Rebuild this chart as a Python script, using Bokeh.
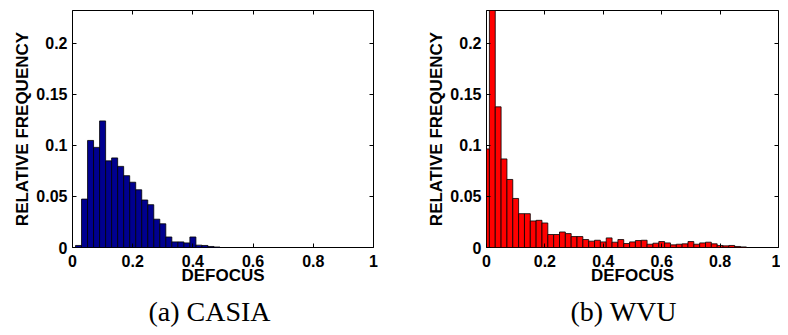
from bokeh.plotting import figure
from bokeh.layouts import row
from bokeh.models import FixedTicker, LinearAxis, Range1d, Title, ColumnDataSource
from bokeh.embed import file_html
from bokeh.resources import INLINE

# ---------------- data ----------------
casia_centers = [0.00, 0.02, 0.04, 0.06, 0.08, 0.10, 0.12, 0.14, 0.16, 0.18,
                 0.20, 0.22, 0.24, 0.26, 0.28, 0.30, 0.32, 0.34, 0.36, 0.38,
                 0.40, 0.42, 0.44, 0.46, 0.48]
casia_freq = [0.0, 0.002, 0.0474, 0.1048, 0.098, 0.1239, 0.0848, 0.0877, 0.0794, 0.0703,
              0.0639, 0.0565, 0.0465, 0.0419, 0.0277, 0.0232, 0.0103, 0.0055, 0.0055, 0.0045,
              0.0103, 0.0023, 0.002, 0.001, 0.0005]

wvu_centers = [0.00, 0.02, 0.04, 0.06, 0.08, 0.10, 0.12, 0.14, 0.16, 0.18,
               0.20, 0.22, 0.24, 0.26, 0.28, 0.30, 0.32, 0.34, 0.36, 0.38,
               0.40, 0.42, 0.44, 0.46, 0.48, 0.50, 0.52, 0.54, 0.56, 0.58,
               0.60, 0.62, 0.64, 0.66, 0.68, 0.70, 0.72, 0.74, 0.76, 0.78,
               0.80, 0.82, 0.84, 0.86, 0.88]
wvu_freq = [0.0965, 0.31, 0.1377, 0.0867, 0.0666, 0.048, 0.0331, 0.0331, 0.026, 0.0266,
            0.024, 0.0127, 0.0127, 0.0152, 0.0136, 0.0107, 0.0107, 0.0078, 0.0062, 0.0071,
            0.0055, 0.0094, 0.0052, 0.0078, 0.0039, 0.0055, 0.0068, 0.0071, 0.0032, 0.0042,
            0.0058, 0.0045, 0.0026, 0.0032, 0.0036, 0.0058, 0.0032, 0.0045, 0.0052, 0.0036,
            0.002, 0.0016, 0.002, 0.001, 0.0006]

bin_width = 0.02

x_ticks = [0, 0.2, 0.4, 0.6, 0.8, 1]
x_tick_labels = ["0", "0.2", "0.4", "0.6", "0.8", "1"]
y_ticks = [0, 0.05, 0.1, 0.15, 0.2]
y_tick_labels = ["0", "0.05", "0.1", "0.15", "0.2"]

x_label = "DEFOCUS"
y_label = "RELATIVE FREQUENCY"
captions = ["(a) CASIA", "(b) WVU"]
colors = ["#00008F", "#FF0000"]

SANS = "Liberation Sans"
SERIF = "Liberation Serif"


def make_panel(centers, freqs, color, caption, mb_left, fw, mb_right, cap_offset):
    p = figure(frame_width=fw, frame_height=237,
               x_range=Range1d(0, 1), y_range=Range1d(0, 0.232),
               output_backend="svg", toolbar_location=None,
               min_border_left=mb_left, min_border_right=mb_right,
               min_border_top=10, min_border_bottom=80,
               x_axis_label=x_label, y_axis_label=y_label)
    p.grid.visible = False
    p.background_fill_color = "white"
    p.border_fill_color = "white"
    p.outline_line_color = "black"
    p.outline_line_width = 1
    p.outline_line_alpha = 1

    src = ColumnDataSource(dict(x=centers, top=freqs))
    p.vbar(x="x", top="top", width=bin_width, bottom=0, source=src,
           fill_color=color, line_color="black", line_width=0.8)

    for ax, ticks, labels in ((p.xaxis[0], x_ticks, x_tick_labels),
                              (p.yaxis[0], y_ticks, y_tick_labels)):
        ax.ticker = FixedTicker(ticks=ticks)
        ax.major_label_overrides = {t: l for t, l in zip(ticks, labels)}
        ax.major_tick_in = 4
        ax.major_tick_out = 0
        ax.minor_tick_in = 0
        ax.minor_tick_out = 0
        ax.major_tick_line_color = "black"
        ax.axis_line_color = None
        ax.major_label_text_font = SANS
        ax.major_label_text_font_style = "bold"
        ax.major_label_text_font_size = "16px"
        ax.major_label_text_color = "black"
        ax.axis_label_text_font = SANS
        ax.axis_label_text_font_style = "bold"
        ax.axis_label_text_font_size = "17px"
        ax.axis_label_text_color = "black"

    p.xaxis[0].major_label_standoff = 7
    p.xaxis[0].axis_label_standoff = -4
    p.yaxis[0].major_label_standoff = 5
    p.yaxis[0].axis_label_standoff = 1

    for loc, ticks in (("above", x_ticks), ("right", y_ticks)):
        ax = LinearAxis(ticker=FixedTicker(ticks=ticks))
        ax.major_label_overrides = {t: "" for t in ticks}
        ax.major_label_text_font_size = "0px"
        ax.major_label_standoff = 0
        ax.major_tick_in = 4
        ax.major_tick_out = 0
        ax.minor_tick_in = 0
        ax.minor_tick_out = 0
        ax.major_tick_line_color = "black"
        ax.axis_line_color = None
        p.add_layout(ax, loc)

    t = Title(text=caption, align="left", offset=cap_offset, standoff=12,
              text_font=SERIF, text_font_size="28px", text_font_style="normal",
              text_color="black")
    p.add_layout(t, "below")
    return p


p1 = make_panel(casia_centers, casia_freq, colors[0], captions[0], 72, 301, 15, 76)
p2 = make_panel(wvu_centers, wvu_freq, colors[1], captions[1], 98, 292, 2, 84)

layout = row(p1, p2)
open("out.html", "w").write(file_html(layout, INLINE))
